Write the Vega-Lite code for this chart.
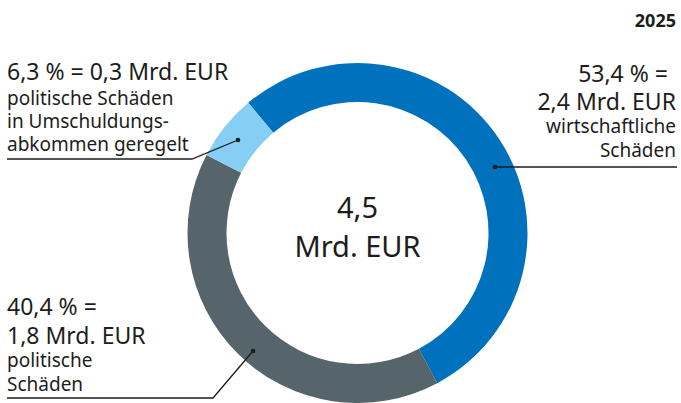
{
  "$schema": "https://vega.github.io/schema/vega-lite/v6.json",
  "width": 681,
  "height": 403,
  "autosize": "none",
  "padding": 0,
  "background": "white",
  "config": {"view": {"stroke": null}, "font": "Noto Sans"},
  "datasets": {
    "slices": [
      {"kategorie": "wirtschaftliche Schäden", "anteil": 53.4, "mrd": 2.4, "ord": 1},
      {"kategorie": "politische Schäden", "anteil": 40.4, "mrd": 1.8, "ord": 2},
      {"kategorie": "politische Schäden in Umschuldungsabkommen geregelt", "anteil": 6.3, "mrd": 0.3, "ord": 3}
    ],
    "labels": [
      {"text": "2025", "x": 676, "y": 27, "kind": "year", "side": "right"},
      {"text": "53,4 % =", "x": 668, "y": 82, "kind": "big", "side": "right"},
      {"text": "2,4 Mrd. EUR", "x": 676, "y": 110, "kind": "big", "side": "right"},
      {"text": "wirtschaftliche", "x": 676, "y": 133, "kind": "small", "side": "right"},
      {"text": "Schäden", "x": 676, "y": 157, "kind": "small", "side": "right"},
      {"text": "6,3 % = 0,3 Mrd. EUR", "x": 7, "y": 80, "kind": "big", "side": "left"},
      {"text": "politische Schäden", "x": 7, "y": 105, "kind": "small", "side": "left"},
      {"text": "in Umschuldungs-", "x": 7, "y": 128, "kind": "small", "side": "left"},
      {"text": "abkommen geregelt", "x": 7, "y": 151, "kind": "small", "side": "left"},
      {"text": "40,4 % =", "x": 7, "y": 315, "kind": "big", "side": "left"},
      {"text": "1,8 Mrd. EUR", "x": 7, "y": 344, "kind": "big", "side": "left"},
      {"text": "politische", "x": 7, "y": 367, "kind": "small", "side": "left"},
      {"text": "Schäden", "x": 7, "y": 391, "kind": "small", "side": "left"},
      {"text": "4,5", "x": 357.5, "y": 218, "kind": "center", "side": "center"},
      {"text": "Mrd. EUR", "x": 357.5, "y": 257, "kind": "center", "side": "center"}
    ],
    "leaders": [
      {"g": "wirtschaftlich", "o": 1, "x": 495, "y": 167},
      {"g": "wirtschaftlich", "o": 2, "x": 677, "y": 167},
      {"g": "umschuldung", "o": 1, "x": 238, "y": 140},
      {"g": "umschuldung", "o": 2, "x": 192, "y": 159},
      {"g": "umschuldung", "o": 3, "x": 7, "y": 159},
      {"g": "politisch", "o": 1, "x": 253, "y": 351},
      {"g": "politisch", "o": 2, "x": 213, "y": 398},
      {"g": "politisch", "o": 3, "x": 7, "y": 398}
    ]
  },
  "layer": [
    {
      "data": {"name": "slices"},
      "mark": {"type": "arc", "outerRadius": 170, "innerRadius": 131},
      "encoding": {
        "x": {"datum": 357.5, "type": "quantitative", "scale": {"domain": [0, 681], "nice": false, "zero": false}, "axis": null},
        "y": {"datum": 233, "type": "quantitative", "scale": {"domain": [0, 403], "nice": false, "zero": false, "reverse": true}, "axis": null},
        "theta": {"field": "anteil", "type": "quantitative", "stack": true, "scale": {"range": [-0.6981, 5.5851]}},
        "order": {"field": "ord", "type": "quantitative"},
        "color": {
          "field": "kategorie",
          "type": "nominal",
          "scale": {
            "domain": ["wirtschaftliche Schäden", "politische Schäden", "politische Schäden in Umschuldungsabkommen geregelt"],
            "range": ["#0071BC", "#56646B", "#87CEF4"]
          },
          "legend": null
        }
      }
    },
    {
      "data": {"name": "leaders"},
      "mark": {"type": "line", "color": "#1d1d1b", "strokeWidth": 1.3, "interpolate": "linear"},
      "encoding": {
        "x": {"field": "x", "type": "quantitative", "scale": {"domain": [0, 681], "nice": false, "zero": false}, "axis": null},
        "y": {"field": "y", "type": "quantitative", "scale": {"domain": [0, 403], "nice": false, "zero": false, "reverse": true}, "axis": null},
        "detail": {"field": "g"},
        "order": {"field": "o", "type": "quantitative"}
      }
    },
    {
      "data": {"name": "leaders"},
      "transform": [{"filter": "datum.o == 1"}],
      "mark": {"type": "point", "filled": true, "color": "#1d1d1b", "size": 22, "opacity": 1},
      "encoding": {
        "x": {"field": "x", "type": "quantitative", "scale": {"domain": [0, 681], "nice": false, "zero": false}, "axis": null},
        "y": {"field": "y", "type": "quantitative", "scale": {"domain": [0, 403], "nice": false, "zero": false, "reverse": true}, "axis": null}
      }
    },
    {
      "data": {"name": "labels"},
      "transform": [{"filter": "datum.kind == 'big' && datum.side == 'left'"}],
      "mark": {"type": "text", "align": "left", "baseline": "alphabetic", "fontSize": 23, "color": "#1d1d1b"},
      "encoding": {
        "x": {"field": "x", "type": "quantitative", "scale": {"domain": [0, 681], "nice": false, "zero": false}, "axis": null},
        "y": {"field": "y", "type": "quantitative", "scale": {"domain": [0, 403], "nice": false, "zero": false, "reverse": true}, "axis": null},
        "text": {"field": "text"}
      }
    },
    {
      "data": {"name": "labels"},
      "transform": [{"filter": "datum.kind == 'small' && datum.side == 'left'"}],
      "mark": {"type": "text", "align": "left", "baseline": "alphabetic", "fontSize": 19, "color": "#1d1d1b"},
      "encoding": {
        "x": {"field": "x", "type": "quantitative", "scale": {"domain": [0, 681], "nice": false, "zero": false}, "axis": null},
        "y": {"field": "y", "type": "quantitative", "scale": {"domain": [0, 403], "nice": false, "zero": false, "reverse": true}, "axis": null},
        "text": {"field": "text"}
      }
    },
    {
      "data": {"name": "labels"},
      "transform": [{"filter": "datum.kind == 'big' && datum.side == 'right'"}],
      "mark": {"type": "text", "align": "right", "baseline": "alphabetic", "fontSize": 23, "color": "#1d1d1b"},
      "encoding": {
        "x": {"field": "x", "type": "quantitative", "scale": {"domain": [0, 681], "nice": false, "zero": false}, "axis": null},
        "y": {"field": "y", "type": "quantitative", "scale": {"domain": [0, 403], "nice": false, "zero": false, "reverse": true}, "axis": null},
        "text": {"field": "text"}
      }
    },
    {
      "data": {"name": "labels"},
      "transform": [{"filter": "datum.kind == 'small' && datum.side == 'right'"}],
      "mark": {"type": "text", "align": "right", "baseline": "alphabetic", "fontSize": 19, "color": "#1d1d1b"},
      "encoding": {
        "x": {"field": "x", "type": "quantitative", "scale": {"domain": [0, 681], "nice": false, "zero": false}, "axis": null},
        "y": {"field": "y", "type": "quantitative", "scale": {"domain": [0, 403], "nice": false, "zero": false, "reverse": true}, "axis": null},
        "text": {"field": "text"}
      }
    },
    {
      "data": {"name": "labels"},
      "transform": [{"filter": "datum.kind == 'year'"}],
      "mark": {"type": "text", "align": "right", "baseline": "alphabetic", "fontSize": 18, "fontWeight": "bold", "color": "#1d1d1b"},
      "encoding": {
        "x": {"field": "x", "type": "quantitative", "scale": {"domain": [0, 681], "nice": false, "zero": false}, "axis": null},
        "y": {"field": "y", "type": "quantitative", "scale": {"domain": [0, 403], "nice": false, "zero": false, "reverse": true}, "axis": null},
        "text": {"field": "text"}
      }
    },
    {
      "data": {"name": "labels"},
      "transform": [{"filter": "datum.kind == 'center'"}],
      "mark": {"type": "text", "align": "center", "baseline": "alphabetic", "fontSize": 29, "color": "#1d1d1b"},
      "encoding": {
        "x": {"field": "x", "type": "quantitative", "scale": {"domain": [0, 681], "nice": false, "zero": false}, "axis": null},
        "y": {"field": "y", "type": "quantitative", "scale": {"domain": [0, 403], "nice": false, "zero": false, "reverse": true}, "axis": null},
        "text": {"field": "text"}
      }
    }
  ]
}
